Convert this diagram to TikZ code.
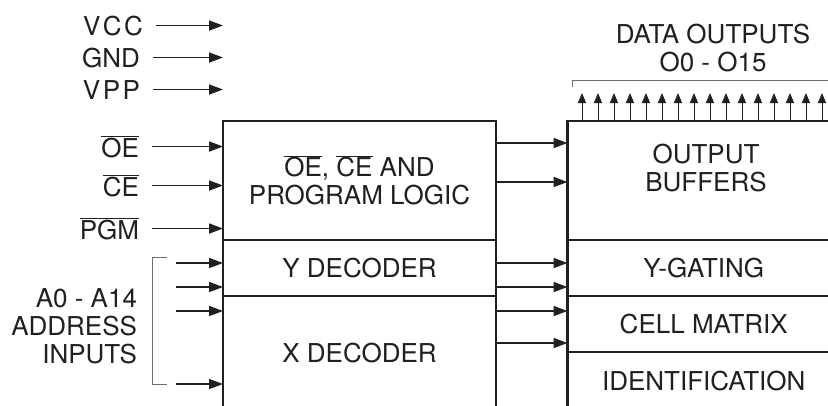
\documentclass[tikz,border=0pt]{standalone}
\usepackage{fontspec}
\setmainfont{TeX Gyre Heros}
\usepackage{xcolor}
\usetikzlibrary{arrows.meta}
\definecolor{InkBlack}{HTML}{231F20}
\definecolor{BracketGray}{HTML}{6D6E71}
\newcommand{\barsig}[1]{$\overline{\hbox{#1}}$}

\begin{document}
\begin{tikzpicture}[x=1pt, y=-1pt,
    every node/.style={text=InkBlack, font=\fontsize{26}{28}\selectfont, inner sep=0pt, outer sep=0pt},
    blk/.style={draw=InkBlack, line width=2.7pt, align=center},
    sig/.style={draw=InkBlack, line width=1.6pt, -{Triangle[length=14pt, width=10pt]}},
    upsig/.style={draw=InkBlack, line width=1pt, -{Triangle[length=10pt, width=8pt]}},
    brk/.style={draw=BracketGray, line width=1pt}]
            % EPROM block diagram
            \useasboundingbox (0,0) rectangle (828,405);
            \clip (0,0) rectangle (828,405);

            \node[blk, minimum width=273, minimum height=119] (logic) at (359.5,180.5) {\barsig{OE}, \barsig{CE} AND\\PROGRAM LOGIC};
            \node[blk, minimum width=273, minimum height=56] (ydec) at (359.5,268) {Y DECODER};
            \node[blk, minimum width=273, minimum height=114] (xdec) at (359.5,353) {X DECODER};
            \node[blk, minimum width=272.5, minimum height=119] (buf) at (703.75,180.5) {};
            \node[align=center] (bufText) at (706,168) {OUTPUT\\BUFFERS};
            \node[blk, minimum width=272.5, minimum height=56] (ygate) at (703.75,268) {Y-GATING};
            \node[blk, minimum width=272.5, minimum height=56] (cell) at (703.75,324) {CELL MATRIX};
            \node[blk, minimum width=272.5, minimum height=58] (ident) at (703.75,381) {IDENTIFICATION};

            \node[anchor=base east] (vcc) at (143,35) {V\kern2.5pt C\kern2.5pt C};
            \node[anchor=base east] (gnd) at (140,67) {GND};
            \node[anchor=base east] (vpp) at (140,99) {V\kern2.5pt P\kern2.5pt P};
            \node[anchor=base east] (oe) at (139,157) {\barsig{OE}};
            \node[anchor=base east] (ce) at (139,196) {\barsig{CE}};
            \node[anchor=base east] (pgm) at (139,239) {\barsig{PGM}};
            \node[anchor=east, align=right] (addr) at (137,326) {A0 - A14\\ADDRESS\\INPUTS};
            \node[align=center] (dataOut) at (713,47.7) {DATA OUTPUTS\\O0 - O15};

            \foreach \n in {vcc,gnd,vpp,oe,ce,pgm}
                \draw[sig, shorten <=13pt] (\n.east) -- (\n.east -| logic.west);
            \foreach \yy in {143,182}
                \draw[sig] (logic.east |- 0,\yy) -- (buf.west |- 0,\yy);
            \foreach \yy in {263,287,311,343}
                \draw[sig] (ydec.east |- 0,\yy) -- (ygate.west |- 0,\yy);

            \coordinate (adrStart) at (176,0);
            \draw[brk] (167,257) -- (152,257) -- (152,384) -- (167,384);
            \foreach \yy in {263,287,311,384}
                \draw[sig] (adrStart |- 0,\yy) -- (logic.west |- 0,\yy);

            \draw[brk] (572,87) -- (572,80) -- (840,80);
            \foreach \i [evaluate=\i as \xx using 582+16*\i] in {0,...,15}
                \draw[upsig] (buf.north -| \xx,0) -- (\xx,93);
        \end{tikzpicture}
\end{document}
